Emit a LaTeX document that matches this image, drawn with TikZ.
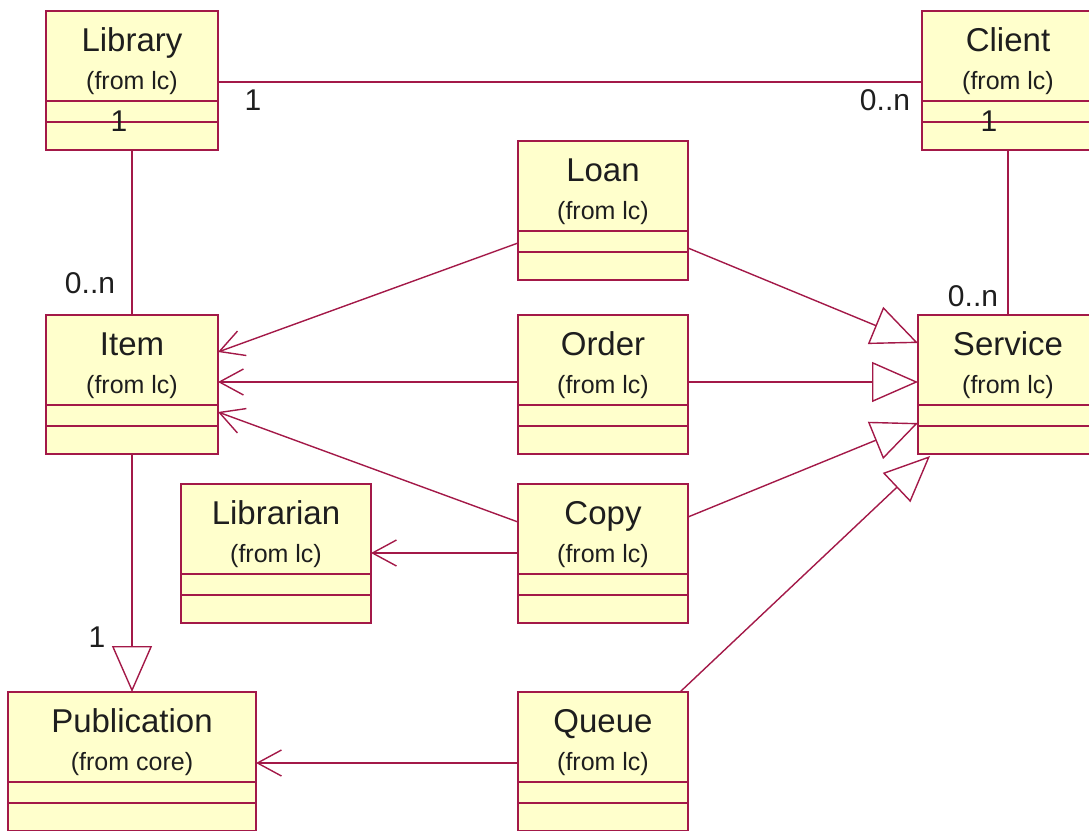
\documentclass[tikz,border=0pt]{standalone}
\usepackage{fontspec}
\setmainfont{Liberation Sans}
\usetikzlibrary{arrows.meta}
\definecolor{umlred}{RGB}{163,25,72}
\definecolor{umlfill}{RGB}{255,255,204}
\definecolor{umltext}{RGB}{30,30,30}
\tikzset{
  classbox/.style={draw=umlred, fill=umlfill, line width=1.4pt, minimum height=139pt, anchor=north west, inner sep=0pt, outer sep=0pt},
  classline/.style={draw=umlred, line width=1.4pt},
  titletext/.style={anchor=base, text=umltext, font=\fontsize{33}{36}\selectfont, inner sep=0pt},
  subtext/.style={anchor=base, text=umltext, font=\fontsize{25}{28}\selectfont, inner sep=0pt},
  multlabel/.style={text=umltext, font=\fontsize{30}{32}\selectfont, inner sep=0pt},
  conn/.style={draw=umlred, line width=1.4pt},
  nav/.style={conn, -{Straight Barb[length=24pt,width=26pt]}},
  gen/.style={conn, -{Triangle[open,length=46pt,width=40pt]}},
}
\newcommand\umlclass[6]{%
  \node[classbox, minimum width=#4pt] (#1) at (#2,#3) {};
  \draw[classline] ([yshift=-90pt]#1.north west) -- ([yshift=-90pt]#1.north east);
  \draw[classline] ([yshift=-111pt]#1.north west) -- ([yshift=-111pt]#1.north east);
  \node[titletext] (#1-title) at ([yshift=-40pt]#1.north) {#5};
  \node[subtext] (#1-sub) at ([yshift=-78pt]#1.north) {#6};
}
\begin{document}
\begin{tikzpicture}[x=1pt,y=-1pt]
\useasboundingbox (0,0) rectangle (1089,830);
\clip (0,0) rectangle (1089,830);
\umlclass{Library}{46}{11}{172}{Library}{(from lc)}
\umlclass{Client}{922}{11}{172}{Client}{(from lc)}
\umlclass{Loan}{518}{141}{170}{Loan}{(from lc)}
\umlclass{Item}{46}{315}{172}{Item}{(from lc)}
\umlclass{Order}{518}{315}{170}{Order}{(from lc)}
\umlclass{Service}{918}{315}{180}{Service}{(from lc)}
\umlclass{Librarian}{181}{484}{190}{Librarian}{(from lc)}
\umlclass{Copy}{518}{484}{170}{Copy}{(from lc)}
\umlclass{Publication}{8}{692}{248}{Publication}{(from core)}
\umlclass{Queue}{518}{692}{170}{Queue}{(from lc)}

% associations
\draw[conn] ([yshift=-71pt]Library.north east) -- ([yshift=-71pt]Client.north west);
\draw[conn] (Library.south) -- (Item.north);
\draw[conn] (Client.south) -- (Client.south |- Service.north);

% navigable associations
\draw[nav] ([yshift=-102pt]Loan.north west) -- ([yshift=-37pt]Item.north east);
\draw[nav] ([yshift=-67pt]Order.north west) -- ([yshift=-67pt]Item.north east);
\draw[nav] ([yshift=-38pt]Copy.north west) -- ([yshift=-97pt]Item.north east);
\draw[nav] ([yshift=-69pt]Copy.north west) -- ([yshift=-69pt]Librarian.north east);
\draw[nav] ([yshift=-71pt]Queue.north west) -- ([yshift=-71pt]Publication.north east);

% generalizations
\draw[gen] ([yshift=-107pt]Loan.north east) -- ([yshift=-28pt]Service.north west);
\draw[gen] ([yshift=-67pt]Order.north east) -- ([yshift=-67pt]Service.north west);
\draw[gen] ([yshift=-33pt]Copy.north east) -- ([yshift=-108pt]Service.north west);
\draw[gen] ([xshift=-8pt]Queue.north east) -- ([xshift=12pt,yshift=-2pt]Service.south west);
\draw[gen] (Item.south) -- (Publication.north);

% multiplicities
\node[multlabel] (m1) at (253,100) {1};
\node[multlabel] (m2) at (885,100) {0..n};
\node[multlabel] (m3) at (119,121) {1};
\node[multlabel] (m4) at (989,121) {1};
\node[multlabel] (m5) at (90,283) {0..n};
\node[multlabel] (m6) at (973,296) {0..n};
\node[multlabel] (m7) at (97,637) {1};
\end{tikzpicture}
\end{document}
